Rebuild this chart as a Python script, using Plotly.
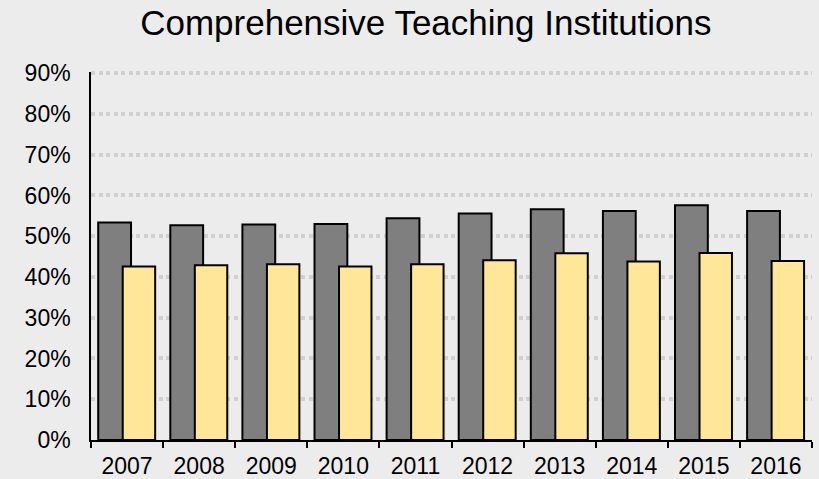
import plotly.graph_objects as go

# data
years = ["2007", "2008", "2009", "2010", "2011", "2012", "2013", "2014", "2015", "2016"]
dark_vals = [0.534, 0.527, 0.529, 0.530, 0.544, 0.556, 0.566, 0.562, 0.576, 0.562]
light_vals = [0.426, 0.429, 0.431, 0.426, 0.431, 0.441, 0.458, 0.438, 0.459, 0.439]
y_ticks = [0, 0.1, 0.2, 0.3, 0.4, 0.5, 0.6, 0.7, 0.8, 0.9]

fig = go.Figure()

# gray bar behind, yellow bar overlapping on the right
fig.add_trace(go.Bar(
    x=years, y=dark_vals, width=0.455, offset=-0.40,
    marker=dict(color="#7f7f7f", line=dict(color="#000000", width=2)),
    name="A", hoverinfo="x+y"))
fig.add_trace(go.Bar(
    x=years, y=light_vals, width=0.45, offset=-0.06,
    marker=dict(color="#ffe699", line=dict(color="#000000", width=2)),
    name="B", hoverinfo="x+y"))

fig.update_layout(
    barmode="overlay",
    width=819, height=479,
    title=dict(text="Comprehensive Teaching Institutions",
               font=dict(family="Liberation Sans, Arial", size=35, color="#000000"),
               x=0.52, xanchor="center", y=0.953, yanchor="middle"),
    font=dict(family="Liberation Sans, Arial", size=23, color="#000000"),
    showlegend=False,
    paper_bgcolor="#ececec", plot_bgcolor="#ececec",
    margin=dict(l=91, r=7, t=72, b=39),
    xaxis=dict(type="category", showline=True, linecolor="#000000", linewidth=1.5,
               ticks="outside", tickson="boundaries", ticklen=6, tickcolor="#000000",
               tickwidth=1.5, showgrid=False, ticklabelstandoff=5, automargin=False,
               tickfont=dict(size=23)),
    # range slightly above 90% so the top gridline is not clipped
    yaxis=dict(range=[0, 0.903], tickvals=y_ticks, tickformat=".0%",
               showline=True, linecolor="#000000", linewidth=1.5,
               showgrid=True, gridcolor="#d0d0d0", griddash="4px,3.5px", gridwidth=3.5,
               zeroline=False, ticks="", ticklabelstandoff=14, automargin=False,
               tickfont=dict(size=23)))

# the page's default body margin would shift the figure
fig.write_html("out.html", config={"displayModeBar": False},
               post_script="document.body.style.margin='0';")
